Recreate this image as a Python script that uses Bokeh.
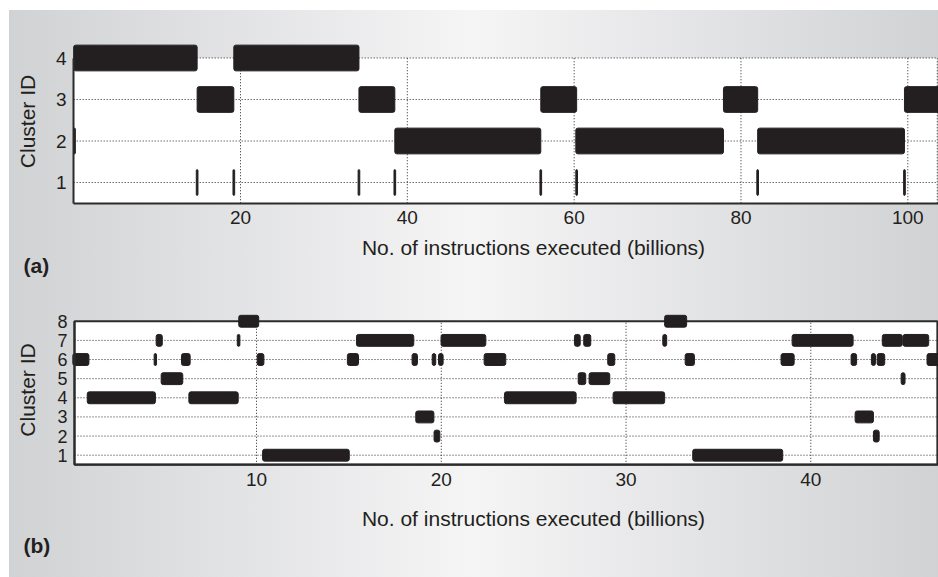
import math
from bokeh.plotting import figure
from bokeh.models import Label, FixedTicker, ColumnDataSource, Range1d
from bokeh.layouts import column
from bokeh.embed import file_html
from bokeh.resources import INLINE

# ---------------- Panel (a) data ----------------
A_CLUSTER = [4, 4,
             3, 3, 3, 3, 3,
             2, 2, 2, 2,
             1, 1, 1, 1, 1, 1, 1, 1]
A_START = [0.0, 19.2,
           14.8, 34.2, 56.0, 77.9, 99.6,
           0.0, 38.5, 60.2, 82.0,
           14.7, 19.1, 34.1, 38.4, 55.9, 60.2, 81.9, 99.5]
A_END = [14.8, 34.2,
         19.2, 38.5, 60.3, 82.0, 105.0,
         0.2, 56.0, 77.9, 99.6,
         14.9, 19.3, 34.3, 38.6, 56.1, 60.4, 82.1, 99.7]
A_XTICKS = [20, 40, 60, 80, 100]
A_YTICKS = [1, 2, 3, 4]

# ---------------- Panel (b) data ----------------
B_CLUSTER = [8, 8,
             7, 7, 7, 7, 7, 7, 7, 7, 7, 7,
             6, 6, 6, 6, 6, 6, 6, 6, 6, 6, 6, 6, 6, 6, 6, 6,
             5, 5, 5, 5,
             4, 4, 4, 4,
             3, 3,
             2, 2,
             1, 1]
B_START = [9.04, 32.09,
           4.57, 8.96, 15.41, 19.99, 27.21, 27.71, 31.99, 38.99, 43.87, 44.99,
           0.06, 4.46, 5.94, 10.04, 14.92, 18.42, 19.51, 19.85, 22.32, 29.01, 33.20, 38.39, 42.18, 43.28, 43.59, 46.29,
           4.84, 27.41, 28.00, 44.89,
           0.84, 6.34, 23.42, 29.30,
           18.62, 42.40,
           19.61, 43.39,
           10.33, 33.61]
B_END = [10.12, 33.28,
         4.90, 9.10, 18.51, 22.41, 27.52, 28.09, 32.20, 42.29, 44.95, 46.38,
         0.93, 4.59, 6.41, 10.40, 15.52, 18.71, 19.70, 20.10, 23.49, 29.39, 33.70, 39.10, 42.48, 43.50, 44.00, 47.50,
         6.01, 27.82, 29.12, 45.10,
         4.53, 9.01, 27.30, 32.09,
         19.60, 43.39,
         19.92, 43.70,
         15.02, 38.48]
B_XTICKS = [10, 20, 30, 40]
B_YTICKS = [1, 2, 3, 4, 5, 6, 7, 8]

TEXT = "#231f20"
BAR = "#231f20"
AXIS = "#2b2b2b"
GRID = "#262626"
FONT = "Liberation Sans"
XLABEL = "No. of instructions executed (billions)"
YLABEL = "Cluster ID"
W = 938


def make_panel(h, xmap, ymap, white_x, clusters, starts, ends, xticks, yticks,
               half_h, x_fs, y_fs, framed, texts):
    # xmap / ymap: two (value, pixel) pairs that fix the scale of the canvas
    (xv1, xp1), (xv2, xp2) = xmap
    sx = (xp2 - xp1) / (xv2 - xv1)
    x0 = xv1 - xp1 / sx
    x1 = xv1 + (W - xp1) / sx
    (yv1, yp1), (yv2, yp2) = ymap
    sy = (yp1 - yp2) / (yv2 - yv1)
    y_top = yv1 + yp1 / sy
    y_bot = yv1 - (h - yp1) / sy

    def to_data(px, py):
        return x0 + px / sx, y_top - py / sy

    p = figure(width=W, height=h, x_range=Range1d(x0, x1), y_range=Range1d(y_bot, y_top),
               output_backend="svg", toolbar_location=None, min_border=0)
    p.background_fill_alpha = 0
    p.border_fill_alpha = 0
    p.outline_line_color = None
    p.xgrid.visible = False
    p.ygrid.visible = False

    top_id = max(yticks)
    bot = min(yticks) - 0.5
    wl, wr = white_x
    if framed:
        p.quad(left=wl, right=wr, bottom=bot, top=top_id,
               fill_color="white", line_color=AXIS, line_width=2)
    else:
        p.quad(left=wl, right=wr, bottom=bot, top=top_id,
               fill_color="white", line_color=None)
        p.segment(x0=[wr], y0=[bot], x1=[wr], y1=[top_id],
                  line_color=GRID, line_dash="1 2", line_width=1)

    hy = [y for y in yticks if not (framed and y == top_id)]
    p.segment(x0=[wl] * len(hy), y0=hy, x1=[wr] * len(hy), y1=hy,
              line_color=GRID, line_dash="1 2", line_width=1)
    p.segment(x0=xticks, y0=[bot] * len(xticks), x1=xticks, y1=[top_id] * len(xticks),
              line_color=GRID, line_dash="1 2", line_width=1)

    src = ColumnDataSource(dict(
        left=starts, right=ends,
        bottom=[c - half_h for c in clusters],
        top=[c + half_h for c in clusters]))
    p.quad(left="left", right="right", bottom="bottom", top="top", source=src,
           fill_color=BAR, line_color=BAR, line_width=1, line_join="round",
           border_radius=2)

    for ax, ticks, fs, so in ((p.xaxis, xticks, x_fs, 8), (p.yaxis, yticks, y_fs, 7)):
        ax.ticker = FixedTicker(ticks=ticks)
        ax.major_tick_line_color = None
        ax.minor_tick_line_color = None
        ax.major_tick_out = 0
        ax.major_tick_in = 0
        ax.major_label_standoff = so
        ax.major_label_text_font = FONT
        ax.major_label_text_font_size = fs
        ax.major_label_text_color = TEXT
        ax.axis_line_color = AXIS
        ax.axis_line_width = 2
    p.xaxis.fixed_location = bot
    p.xaxis.bounds = (wl, x1)
    p.yaxis.fixed_location = wl
    p.yaxis.bounds = (bot, top_id)

    (xlx, xly), (ylx, yly), (tag, tgx, tgy) = texts
    lx, ly = to_data(xlx, xly)
    p.add_layout(Label(x=lx, y=ly, text=XLABEL, text_align="center", text_baseline="middle",
                       text_font=FONT, text_font_size="21px", text_color=TEXT))
    lx, ly = to_data(ylx, yly)
    p.add_layout(Label(x=lx, y=ly, text=YLABEL, angle=math.pi / 2, text_align="center",
                       text_baseline="middle", text_font=FONT, text_font_size="21px",
                       text_color=TEXT))
    lx, ly = to_data(tgx, tgy)
    p.add_layout(Label(x=lx, y=ly, text=tag, text_align="left", text_baseline="middle",
                       text_font=FONT, text_font_size="21px", text_font_style="bold",
                       text_color=TEXT))
    return p


# panel (a): canvas rows 0..288 of the page
pa = make_panel(288, ((20, 240.0), (100, 907.3)), ((1, 182.0), (4, 57.5)), (0, 103.53),
                A_CLUSTER, A_START, A_END, A_XTICKS, A_YTICKS, 0.31, "19px", "19px", False,
                ((533, 247), (27, 121), ("(a)", 23, 265)))
# panel (b): canvas rows 288..577 of the page (pixel rows given relative to its top)
pb = make_panel(289, ((10, 256.0), (40, 810.3)), ((1, 166.7), (8, 32.75)), (0.15, 46.85),
                B_CLUSTER, B_START, B_END, B_XTICKS, B_YTICKS, 0.31, "19px", "18px", True,
                ((533, 230), (27, 101.5), ("(b)", 23, 257)))

layout = column(pa, pb, spacing=0, styles={
    "background": "linear-gradient(to right, #d1d2d4 0%, #f5f5f6 50%, #d1d2d4 100%) "
                  "9px 10px / 929px 567px no-repeat, #ffffff"})

open("out.html", "w").write(file_html(layout, INLINE))
